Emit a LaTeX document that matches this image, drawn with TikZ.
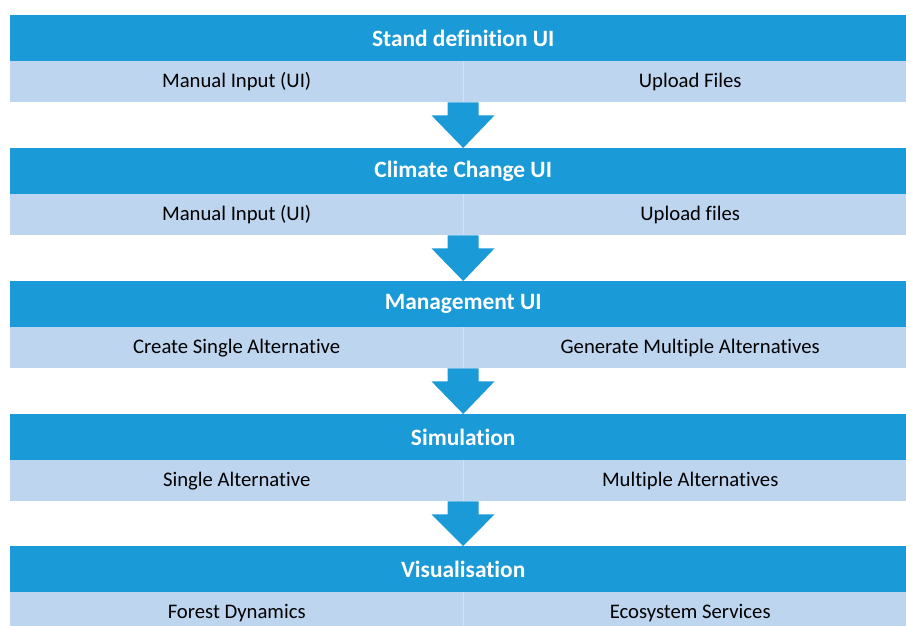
\documentclass[tikz,border=0pt]{standalone}
\usepackage{fontspec}
\setmainfont{Carlito}[Ligatures={NoCommon,NoDiscretionary,NoContextual}]
\usetikzlibrary{calc}
\definecolor{hdrblue}{HTML}{1A9AD6}
\definecolor{rowblue}{HTML}{BDD5EE}
\definecolor{divline}{HTML}{D2E2F3}
\tikzset{
  hdr/.style={rectangle, fill=hdrblue, draw=none, anchor=north west, minimum width=896pt, minimum height=46pt, inner sep=0pt, text=white, font=\fontsize{23.4}{26}\selectfont\bfseries},
  lcell/.style={rectangle, fill=rowblue, draw=none, anchor=north west, minimum width=453pt, minimum height=41pt, inner sep=0pt, text=black, font=\fontsize{20.7}{24}\selectfont},
  rcell/.style={lcell, minimum width=443pt},
  flowarrow/.style={fill=hdrblue, draw=none},
  divider/.style={draw=divline, line width=0.8pt}
}
\begin{document}
\begin{tikzpicture}[x=1pt, y=-1pt]
\useasboundingbox (0,0) rectangle (906,626);
\fill[white] (0,0) rectangle (906,626);
% rows
\foreach \i/\top/\htext/\ltext/\rtext in {
  1/15/Stand definition UI/Manual Input (UI)/Upload Files,
  2/148/Climate Change UI/Manual Input (UI)/Upload files,
  3/281/Management UI/Create Single Alternative/Generate Multiple Alternatives,
  4/414/Simulation/Single Alternative/Multiple Alternatives,
  5/546/Visualisation/Forest Dynamics/Ecosystem Services}{
  \node[hdr] (h\i) at (10,\top) {\hspace*{10pt}\htext};
  \node[lcell] (l\i) at (10,\top+46) {\ltext};
  \node[rcell] (r\i) at (463,\top+46) {\hspace*{11pt}\rtext};
  \draw[divider] (r\i.north west) -- (r\i.south west);
}
% arrows
\foreach \a/\b in {1/2,2/3,3/4,4/5}{
  \fill[flowarrow] ($(r\a.south west)+(-15.5,0)$) -- ($(r\a.south west)+(15.5,0)$)
    -- ($(r\a.south west)+(15.5,13)$) -- ($(r\a.south west)+(31.5,13)$)
    -- ($(h\b.north)+(5,0)$) -- ($(r\a.south west)+(-31.5,13)$)
    -- ($(r\a.south west)+(-15.5,13)$) -- cycle;
}
\end{tikzpicture}
\end{document}
